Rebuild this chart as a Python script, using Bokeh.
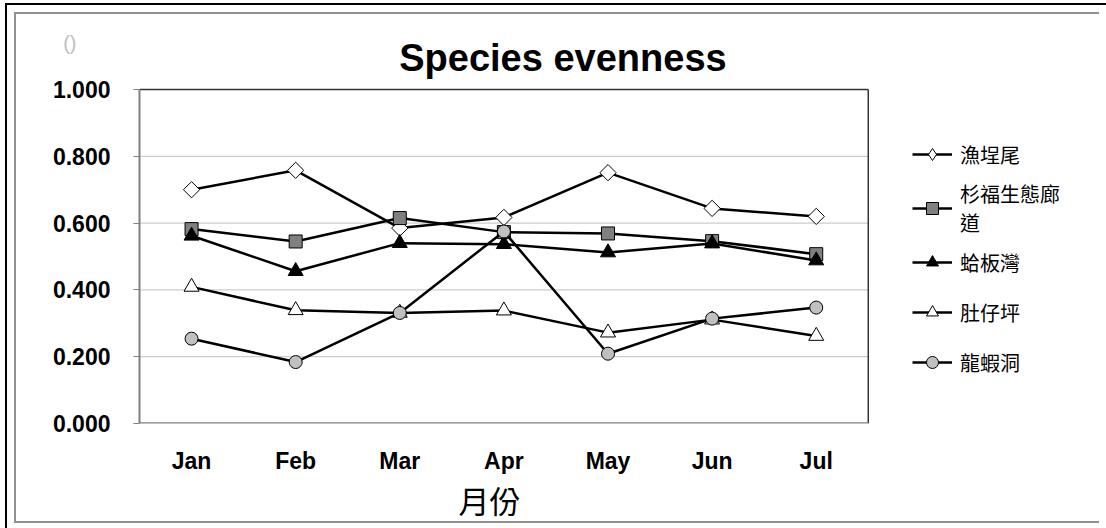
import numpy as np
from bokeh.plotting import figure
from bokeh.models import (FactorRange, Range1d, FixedTicker, NumeralTickFormatter,
                          PrintfTickFormatter, LinearAxis, Legend, Title, Label)
from bokeh.embed import file_html
from bokeh.resources import INLINE

months = ["Jan", "Feb", "Mar", "Apr", "May", "Jun", "Jul"]
y_ticks = [0.0, 0.2, 0.4, 0.6, 0.8, 1.0]

site_names = ["漁埕尾", "杉福生態廊\n道", "蛤板灣", "肚仔坪", "龍蝦洞"]
yuchengwei = [0.700, 0.758, 0.585, 0.617, 0.751, 0.644, 0.620]
shanfu = [0.582, 0.545, 0.615, 0.573, 0.569, 0.546, 0.507]
haban = [0.562, 0.456, 0.540, 0.537, 0.512, 0.539, 0.488]
duzaiping = [0.409, 0.339, 0.331, 0.338, 0.272, 0.311, 0.262]
longxia = [0.254, 0.184, 0.331, 0.575, 0.209, 0.314, 0.347]

series = [yuchengwei, shanfu, haban, duzaiping, longxia]
styles = [
    dict(marker="square", size=11.5, fill="white", angle=np.pi / 4, legend_marker="diamond"),
    dict(marker="square", size=13, fill="#808080", angle=0.0, legend_marker=None),
    dict(marker="triangle", size=15, fill="black", angle=0.0, legend_marker=None),
    dict(marker="triangle", size=15, fill="white", angle=0.0, legend_marker=None),
    dict(marker="circle", size=13, fill="#c0c0c0", angle=0.0, legend_marker=None),
]

# blank factors on the right leave room for the legend inside the frame
pad_factors = [" ", "  "]
n = len(months)

W, H = 1085, 511
FL = 123
FRAME_W = 937          # 9 factor widths
FRAME_H = 409          # frame runs from canvas top to the 0.000 line
PX_PER_UNIT = 334.0
Y_TOP = FRAME_H / PX_PER_UNIT
TITLE_X, TITLE_Y = 4.118, 1.0958
PAREN_Y = 1.1407

p = figure(width=W, height=H, x_range=FactorRange(*(months + pad_factors)),
           y_range=Range1d(0, Y_TOP), output_backend="svg", toolbar_location=None,
           title=None, min_border_left=FL, min_border_right=W - FL - FRAME_W,
           min_border_top=0, min_border_bottom=H - FRAME_H)
p.background_fill_color = "white"
p.border_fill_color = "white"
p.outline_line_color = None
p.xgrid.grid_line_color = None
p.ygrid.grid_line_color = None

# grid lines and plot-area box, limited to the month region
inner = [t for t in y_ticks if 0 < t < 1]
p.segment(x0=[0] * len(inner), x1=[n] * len(inner), y0=inner, y1=inner,
          line_color="#c0c0c0", line_width=1)
p.segment(x0=[0, n], x1=[n, n], y0=[y_ticks[-1], y_ticks[0]], y1=[y_ticks[-1], y_ticks[-1]],
          line_color="#333333", line_width=1.5)
p.segment(x0=[0], x1=[n], y0=[y_ticks[0]], y1=[y_ticks[0]], line_color="#808080", line_width=2.5)

p.yaxis.bounds = (0, 1)
p.yaxis.ticker = FixedTicker(ticks=y_ticks)
p.yaxis.formatter = NumeralTickFormatter(format="0.000")
p.yaxis.major_label_text_font = "Liberation Sans"
p.yaxis.major_label_text_font_style = "bold"
p.yaxis.major_label_text_font_size = "23px"
p.yaxis.major_label_text_color = "black"
p.yaxis.axis_line_color = "#808080"
p.yaxis.axis_line_width = 2
p.yaxis.major_tick_line_color = "#808080"
p.yaxis.major_tick_out = 6
p.yaxis.major_tick_in = 0
p.yaxis.minor_tick_line_color = None
p.yaxis.major_label_standoff = 23

# the small grey "()" at the top left, carried by a bare extra axis
paren_axis = LinearAxis(ticker=FixedTicker(ticks=[PAREN_Y]),
                        formatter=PrintfTickFormatter(format="()"),
                        axis_line_color=None, major_tick_line_color=None,
                        minor_tick_line_color=None, major_tick_out=0, major_tick_in=0,
                        major_label_standoff=-27, major_label_text_color="#c0c0c0",
                        major_label_text_font="Liberation Sans",
                        major_label_text_font_size="20px")
p.add_layout(paren_axis, "left")

p.xaxis.bounds = (0, n)
p.xaxis.major_label_text_font = "Liberation Sans"
p.xaxis.major_label_text_font_style = "bold"
p.xaxis.major_label_text_font_size = "23px"
p.xaxis.major_label_text_color = "black"
p.xaxis.axis_line_color = None
p.xaxis.major_tick_line_color = None
p.xaxis.major_tick_out = 0
p.xaxis.major_tick_in = 0
p.xaxis.major_label_standoff = 24

items = []
for name, vals, st in zip(site_names, series, styles):
    r1 = p.line(months, vals, line_color="black", line_width=2.5)
    r2 = p.scatter(months, vals, marker=st["marker"], size=st["size"], angle=st["angle"],
                   fill_color=st["fill"], line_color="black", line_width=1)
    if st["legend_marker"] is not None:
        r2 = p.scatter(months, [np.nan] * n, marker=st["legend_marker"],
                       size=st["size"], fill_color=st["fill"], line_color="black",
                       line_width=1)
    items.append((name, [r1, r2]))

legend = Legend(items=items, location=(773, 36))
legend.background_fill_alpha = 0
legend.border_line_color = None
legend.padding = 0
legend.margin = 0
legend.spacing = 0
legend.glyph_width = 40
legend.glyph_height = 30
legend.label_height = 50
legend.label_standoff = 8
legend.label_text_font = "Noto Sans CJK TC"
legend.label_text_font_size = "20px"
legend.label_text_line_height = 0.85
legend.label_text_color = "black"
p.add_layout(legend)

p.add_layout(Label(x=TITLE_X, y=TITLE_Y, text="Species  evenness", text_align="center",
                   text_baseline="middle", text_font="Liberation Sans",
                   text_font_style="bold", text_font_size="38px", text_color="black"))

x_title = Title(text="月份", align="left", offset=319, standoff=-4,
                text_font="Noto Sans CJK TC", text_font_style="normal",
                text_font_size="31px", text_color="black")
p.add_layout(x_title, "below")

p.styles = {"margin-left": "14px", "margin-top": "12px",
            "border-left": "2px solid #909090", "border-top": "2px solid #909090",
            "border-bottom": "2px solid #909090",
            "outline": "2px solid black", "outline-offset": "7px"}

open("out.html", "w").write(file_html(p, INLINE))
